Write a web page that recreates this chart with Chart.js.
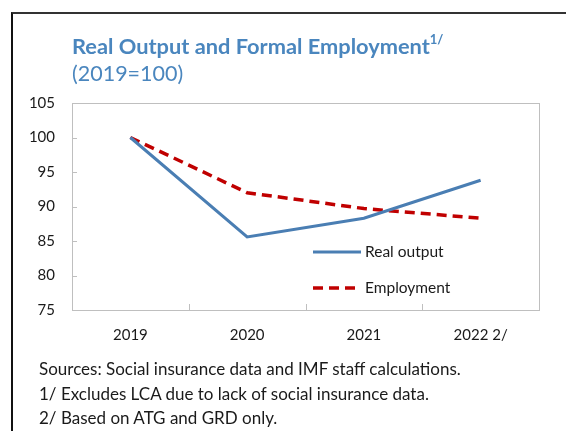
<!DOCTYPE html>
<html>
<head>
<meta charset="utf-8">
<script src="https://cdn.jsdelivr.net/npm/chart.js@4/dist/chart.umd.min.js"></script>
<style>
  html, body { margin: 0; padding: 0; background: #fff; }
  #wrap { position: relative; width: 566px; height: 431px; overflow: hidden; }
  #frame { position: absolute; left: 11px; top: 12px; width: 600px; height: 500px;
           border-left: 2px solid #111; border-top: 2px solid #333; box-sizing: border-box; }
  canvas { position: absolute; left: 0; top: 0; }
  .t { position: absolute; font-family: Lato, "Open Sans", sans-serif; white-space: nowrap; }
  #title { left: 72px; top: 32px; font-size: 21.8px; font-weight: bold; color: #4a86be; }
  #title sup { font-size: 13px; position: relative; top: -2px; }
  #sub { left: 72px; top: 60px; font-size: 21.5px; color: #4a86be; }
  #notes { left: 39px; top: 357px; font-size: 17px; line-height: 24.5px; color: #1a1a1a; }
</style>
</head>
<body>
<div id="wrap">
  <div id="frame"></div>
  <canvas id="c" width="566" height="431"></canvas>
  <div class="t" id="title">Real Output and Formal Employment<sup>1/</sup></div>
  <div class="t" id="sub">(2019=100)</div>
  <div class="t" id="notes">Sources: Social insurance data and IMF staff calculations.<br>1/ Excludes LCA due to lack of social insurance data.<br>2/ Based on ATG and GRD only.</div>
</div>
<script>
const categories = ["2019", "2020", "2021", "2022 2/"];
const realOutput = [100, 85.6, 88.3, 93.8];
const employment = [100, 92.0, 89.7, 88.3];
const yTicks = [75, 80, 85, 90, 95, 100, 105];

const frameAndTicks = {
  id: 'frameAndTicks',
  afterDraw(chart) {
    const ctx = chart.ctx, a = chart.chartArea;
    const xs = chart.scales.x, ys = chart.scales.y;
    ctx.save();
    ctx.strokeStyle = '#bfbfbf';
    ctx.lineWidth = 1;
    ctx.strokeRect(Math.round(a.left) + 0.5, Math.round(a.top) + 0.5,
                   Math.round(a.right - a.left), Math.round(a.bottom - a.top));
    ctx.beginPath();
    yTicks.slice(1, -1).forEach(v => {
      const y = Math.round(ys.getPixelForValue(v)) + 0.5;
      ctx.moveTo(a.left, y); ctx.lineTo(a.left + 5, y);
    });
    for (let i = 0; i < categories.length - 1; i++) {
      const x = Math.round((xs.getPixelForValue(i) + xs.getPixelForValue(i + 1)) / 2) + 0.5;
      ctx.moveTo(x, a.bottom); ctx.lineTo(x, a.bottom - 6);
    }
    ctx.stroke();
    // legend inside plot
    const lx = a.left + 241, ly0 = a.top + 149, gap = 36;
    chart.data.datasets.forEach((ds, i) => {
      const y = ly0 + i * gap;
      ctx.beginPath();
      ctx.strokeStyle = ds.borderColor;
      ctx.lineWidth = ds.borderWidth;
      ctx.setLineDash(ds.borderDash || []);
      ctx.moveTo(lx, y); ctx.lineTo(lx + 48, y);
      ctx.stroke();
      ctx.setLineDash([]);
      ctx.fillStyle = '#1a1a1a';
      ctx.font = '15.5px Lato, "Open Sans", sans-serif';
      ctx.textBaseline = 'middle';
      ctx.fillText(ds.label, lx + 52, y);
    });
    ctx.restore();
  }
};

new Chart(document.getElementById('c'), {
  type: 'line',
  data: {
    labels: categories,
    datasets: [
      { label: 'Real output', data: realOutput, borderColor: '#4a7eb3', borderWidth: 3,
        pointRadius: 0, tension: 0, fill: false },
      { label: 'Employment', data: employment, borderColor: '#c00000', borderWidth: 3.5,
        borderDash: [10, 6], pointRadius: 0, tension: 0, fill: false }
    ]
  },
  options: {
    responsive: false,
    animation: false,
    layout: { padding: { top: 103, right: 27, left: 0, bottom: 0 } },
    plugins: { legend: { display: false }, title: { display: false }, tooltip: { enabled: false } },
    scales: {
      x: {
        offset: true,
        grid: { display: false, drawTicks: false },
        border: { display: false },
        ticks: { color: '#1a1a1a', font: { family: 'Lato, "Open Sans", sans-serif', size: 15 }, padding: 16, maxRotation: 0 },
        afterFit(s) { s.height = 121; }
      },
      y: {
        min: 75, max: 105,
        afterBuildTicks(s) { s.ticks = yTicks.map(v => ({ value: v })); },
        grid: { display: false, drawTicks: false },
        border: { display: false },
        ticks: { color: '#1a1a1a', font: { family: 'Lato, "Open Sans", sans-serif', size: 15 }, padding: 17 },
        afterFit(s) { s.width = 72; }
      }
    }
  },
  plugins: [frameAndTicks]
});
</script>
</body>
</html>
